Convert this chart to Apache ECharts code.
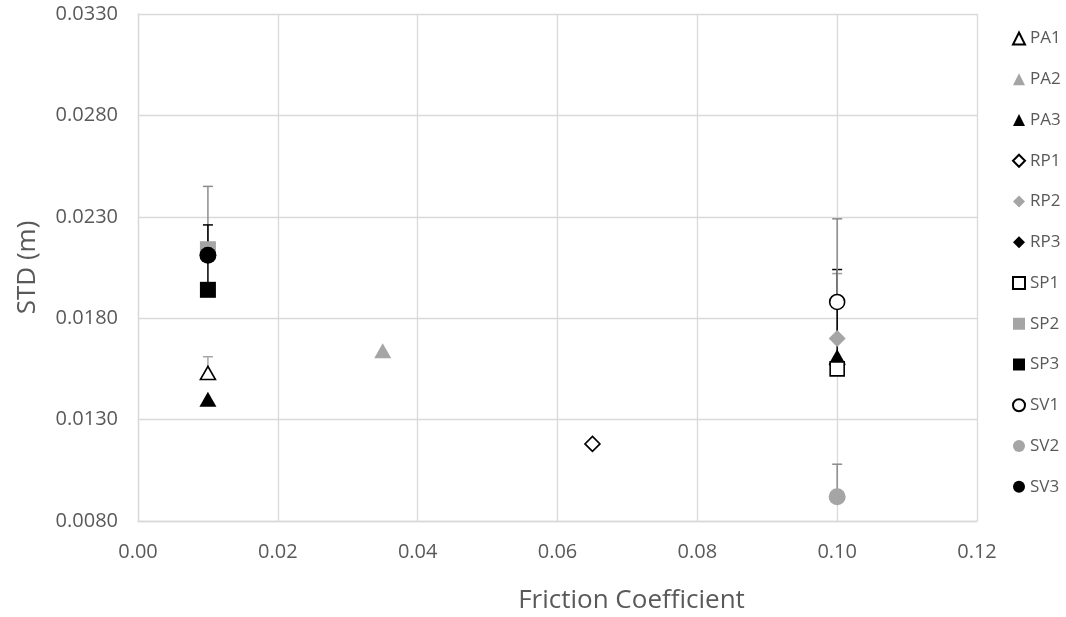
<!DOCTYPE html>
<html>
<head>
<meta charset="utf-8">
<script src="https://cdn.jsdelivr.net/npm/echarts@6/dist/echarts.min.js"></script>
<style>html,body{margin:0;padding:0;background:#fff;}#chart{width:1066px;height:617px;}</style>
</head>
<body>
<div id="chart"></div>
<script>
// ---- data ----
const seriesNames = ['PA1','PA2','PA3','RP1','RP2','RP3','SP1','SP2','SP3','SV1','SV2','SV3'];
const PA1 = [[0.010, 0.0153]];
const PA2 = [[0.035, 0.0164]];
const PA3 = [[0.010, 0.0140], [0.100, 0.0161]];
const RP1 = [[0.065, 0.0118]];
const RP2 = [[0.100, 0.0170]];
const RP3 = [[0.100, 0.0157]];
const SP1 = [[0.100, 0.0155]];
const SP2 = [[0.010, 0.0214]];
const SP3 = [[0.010, 0.0194]];
const SV1 = [[0.100, 0.0188]];
const SV2 = [[0.100, 0.0092]];
const SV3 = [[0.010, 0.0211]];
// positive error (upper bar) for each point
const PA1_err = [0.0008];
const PA2_err = [0];
const PA3_err = [0, 0];
const RP1_err = [0];
const RP2_err = [0.0032];
const RP3_err = [0.0047];
const SP1_err = [0];
const SP2_err = [0.0031];
const SP3_err = [0.0032];
const SV1_err = [0.0041];
const SV2_err = [0.0016];
const SV3_err = [0];
const xTicks = {min: 0, max: 0.12, interval: 0.02};
const yTicks = {min: 0.008, max: 0.033, interval: 0.005};

const allData = {PA1,PA2,PA3,RP1,RP2,RP3,SP1,SP2,SP3,SV1,SV2,SV3};
const allErr = {PA1:PA1_err,PA2:PA2_err,PA3:PA3_err,RP1:RP1_err,RP2:RP2_err,RP3:RP3_err,
  SP1:SP1_err,SP2:SP2_err,SP3:SP3_err,SV1:SV1_err,SV2:SV2_err,SV3:SV3_err};

// ---- styles ----
const GRAY = '#a5a5a5';
function styleFor(name){
  const shape = {PA:'triangle', RP:'diamond', SP:'rect', SV:'circle'}[name.slice(0,2)];
  const kind = name.slice(2);
  let itemStyle;
  if (kind === '1') itemStyle = {color:'#ffffff', borderColor:'#000000', borderWidth:1.6, opacity:1};
  else if (kind === '2') itemStyle = {color:GRAY, borderWidth:0, opacity:1};
  else itemStyle = {color:'#000000', borderWidth:0, opacity:1};
  let size = {triangle:[17,15], diamond:[17,17], rect:[16,16], circle:[17,17]}[shape];
  if (kind === '1') size = size.map(s => s - 2);
  return {shape, itemStyle, size};
}
const errColor = {PA1:'#a6a6a6', RP2:'#a0a0a0', RP3:'#000000', SP2:'#8c8c8c', SP3:'#000000', SV1:'#8a8a8a', SV2:'#8c8c8c'};

// build error bar dataset from the arrays
const errData = [];
seriesNames.forEach(n => {
  allData[n].forEach((p, i) => {
    const e = allErr[n][i];
    if (e > 0) errData.push({value:[p[0], p[1], p[1] + e], color: errColor[n] || '#000'});
  });
});

const series = [{
  type: 'custom',
  name: 'errorbars',
  z: 1,
  silent: true,
  data: errData.map(d => ({value: d.value, itemStyle: {color: d.color}})),
  encode: {x: 0, y: [1, 2]},
  renderItem: function(params, api){
    const x = api.value(0);
    const p0 = api.coord([x, api.value(1)]);
    const p1 = api.coord([x, api.value(2)]);
    const c = api.visual('color');
    const half = 5;
    return {
      type: 'group',
      children: [
        {type:'line', shape:{x1:p0[0], y1:p0[1], x2:p1[0], y2:p1[1]}, style:{stroke:c, lineWidth:1.5}},
        {type:'line', shape:{x1:p1[0]-half, y1:p1[1], x2:p1[0]+half, y2:p1[1]}, style:{stroke:c, lineWidth:1.5}}
      ]
    };
  }
}];
seriesNames.forEach(n => {
  const s = styleFor(n);
  series.push({
    type: 'scatter',
    name: n,
    z: 2,
    symbol: s.shape,
    symbolSize: s.size,
    itemStyle: s.itemStyle,
    data: allData[n],
    emphasis: {disabled: true}
  });
});

const chart = echarts.init(document.getElementById('chart'), null, {renderer:'canvas'});
chart.setOption({
  animation: false,
  backgroundColor: '#ffffff',
  textStyle: {fontFamily: "'Open Sans', 'Noto Sans', sans-serif"},
  grid: {left: 138, right: 89, top: 14, bottom: 96, containLabel: false, outerBoundsMode: 'none'},
  xAxis: {
    type: 'value',
    min: xTicks.min, max: xTicks.max, interval: xTicks.interval,
    name: 'Friction Coefficient', nameLocation: 'middle', nameGap: 66,
    nameTextStyle: {color:'#595959', fontSize: 26, lineHeight: 28, padding: [0, 0, 0, 148]},
    axisLine: {show: true, lineStyle: {color:'#d9d9d9', width:1.3}},
    axisTick: {show: false},
    splitLine: {show: true, lineStyle: {color:'#d9d9d9', width:1.3}},
    axisLabel: {color:'#595959', fontSize: 20, margin: 21, formatter: v => v.toFixed(2)}
  },
  yAxis: {
    type: 'value',
    min: yTicks.min, max: yTicks.max, interval: yTicks.interval,
    name: 'STD (m)', nameLocation: 'middle', nameGap: 97,
    nameTextStyle: {color:'#595959', fontSize: 26},
    axisLine: {show: true, lineStyle: {color:'#d9d9d9', width:1.3}},
    axisTick: {show: false},
    splitLine: {show: true, lineStyle: {color:'#d9d9d9', width:1.3}},
    axisLabel: {color:'#595959', fontSize: 20, margin: 20, formatter: v => v.toFixed(4)}
  },
  legend: {
    data: seriesNames,
    orient: 'vertical',
    left: 1007, top: 25,
    itemWidth: 12, itemHeight: 12, itemGap: 23.75,
    textStyle: {color:'#595959', fontSize: 17},
    selectedMode: false
  },
  series: series
});
</script>
</body>
</html>
